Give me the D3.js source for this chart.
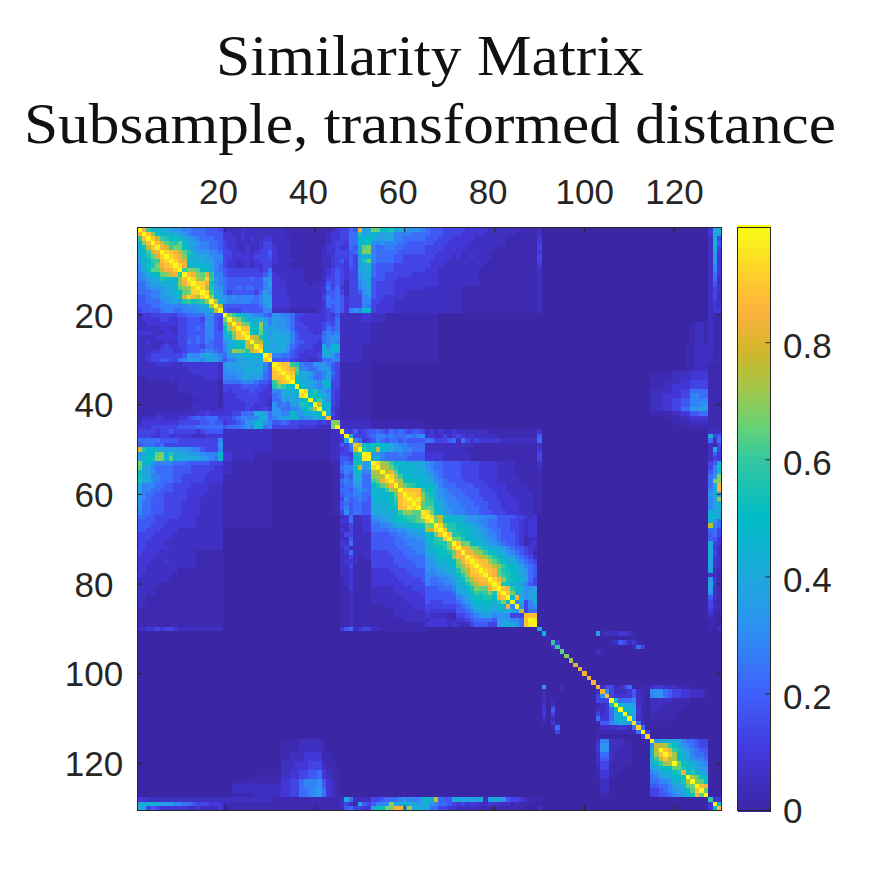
<!DOCTYPE html>
<html>
<head>
<meta charset="utf-8">
<script src="https://d3js.org/d3.v7.min.js"></script>
<style>
  html, body { margin: 0; padding: 0; background: #fff; }
  svg { display: block; }
  text { font-family: "Liberation Sans", Arial, sans-serif; fill: #262626; }
  .title { font-family: "Liberation Serif", serif; fill: #111; }
</style>
</head>
<body>
<svg id="chart" width="870" height="870"></svg>
<script>
// Similarity values, upper triangle only (the matrix is symmetric).
// Each row starts at its diagonal cell. Letter = level (see levels), a number after a
// letter = repeat count. Spaces only split the row into blocks.
const upperRows = [
"zvpmllkjiihhgggfffe dcccdcccccc c3b10cd eegfujkrqnnokkjiiih gfffeeeeedddddcccccccbbbbc a37 dkk",
"zwrnmllkjihgggffff ddccdcccccc c3b9cdd eeggojkmkjkkhhhhggg gfffeeeedddddcccccccbbbbbc a37 dkk",
"zwtpomnnkjihgggff dddcdcdccdd c4b8cdd eeggmmnmjjkkhhggggg f3e3d5c7b7d a37 cle",
"zwuqpoqmkkihhggf eddcccccdee c4b8cde edggmmnihihhhggffff f2e3d5c8b7d a37 clf",
"zvuprqnkjihhggf eddccdccdee dc3b7cdde ddgfkqrhgghhggfffff e4d5c7b9e a37 cle",
"zxwvtqokjijhhg eeddcdcdeef dc3b7cdde eefgkrrhgggggffffff e3d5c7b10d a37 cjd",
"zxwvrnlkkjihh eedddddeeef dc3b7ccde eefejllhggggffeeeee eeddddcdccdc4b10e a37 cid",
"zxvullkkjjhh eddcddcdeee dc4b6ccde fdfejoqhggggffeeeee ed4c9b11e a37 cjd",
"zxvmllmkkhg eddccdcddee c4b7ccde edfejklgffffeeeeeee ed3c9b12d a37 chd",
"zprrqmnjhg feeeeeeedeg c7b4cdef edeejklgffffeeeeeee d3c9b13c a37 chd",
"zwvrquohh feeeeeeeefh dc6b4cdef edeeikkgffeeeeeeddd d3c9b13c a37 cgd",
"zxsrxpih gfffffgffii ddc5b4ceef edeeijkfffeeedddddd d3c9b13c a37 cgc",
"zxxvnih gffffffffhj dddc5bcccfef eceehjkfeeeeddddddd d3c9b13c a37 cfc",
"zxsoji gffgfggffhi dddc8dgeg dceehikfeeeeddddddd c8b17c a37 ced",
"zxpkj gefffffegjh dddc8dffg eceefijfeeeedddcccc c8b17c a37 cec",
"zslj ihihhhhghkj ddddc7egfg fdeeehifeeddddccccc c8b17c a37 cec",
"ztl ihhhhhgghjj ddddc7dggg fdeeehheedddccccccc c8b17c a37 cdc",
"zt ffffffffgik ddddc7dgfg fdeeehgeddddccccccc c8b17c a37 cdc",
"z feeefffffhh c4b6cdefg fdhihmmeddddccccccc c8b17c a37 cdd",
"zrpnlkihhgf iihhgeedddddedf c5ddc3b9 b3a23 a24 a13 cbb",
"zurolklkjh jiihgeddddddeeg c5ddc3b9 b3a23 a24 a13 cbb",
"zvrqllskh jiihgeeddddefeg c7b12 b3a23 a24 a9bccb cbb",
"zwwnnrkj jjiigeeedddegfg c7b12 b3a23 a24 a9bccb cbb",
"zxnmqlj kkjjhfeeeddghgh c7b12 b3a23 a24 a9bccb cbb",
"zutomj klkkhfeeeeeghii c7b12 b3a23 a24 a9bccb cbb",
"zttll kkkjhffeeedghih c7b12 b3a23 a24 a9bccb cbb",
"zwlk jkkjgfeeeddkhml c5b14 b3a23 a24 a8bbccc cbb",
"zlk kkkifeeddddklll c5b14 b3a23 a24 a8bbccc cbb",
"zw hhggfeddddejkig c5b14 b3a23 a24 a8bbccc cbb",
"z ffffedddccdgghh c5b14 b3a23 a24 a8bbccc cbc",
"zxwwpohggiiihfe b7a12 a26 a24 a8bbccc bbb",
"zxwuqhhggiijfe b7a12 a26 a24 a8bbccc bbb",
"zxwpkkjhghjge b7a12 a26 a24 b5c4d4 bbb",
"zxnkkigghjfe b7a12 a26 a24 b5c4d4 bbb",
"znlkkjhmlee b7a12 a26 a24 b3c2c2d2e2e2 bbb",
"zmljihjmee b7a12 a26 a24 b3c2d2d2e2e2 bbb",
"zxmokihed b7a12 a26 a24 c3c2d2e2g2g2 bbb",
"znnmlied b7a12 a26 a24 c3d2d2e2h2g2 bbb",
"zmpkied b7a12 a26 a24 c3d2e2f2h2h2 bbb",
"ztmled b7a12 a26 a24 c3d2e2f2h2i2 bbb",
"zmkdc b7a12 a26 a24 c3d2e2g2i2j2 bbb",
"zkec b7a12 a26 a24 b3b2c2d2f2g2 bbb",
"wdc b7a12 a26 a24 a3b2b2c2d2d2 bbb",
"rr c7b12 a26 a24 a3a2b2b2c2c2 bbb",
"z c7b12 a26 a24 a3a2a2b2b2b2 bbb",
"zedfdeffgfegfgfeffe cdcdccdc7b11d a37 ccc",
"zkeeefghhghggghghi ddccecdedcdc5b9f a37 kef",
"zhgdefhgfggfgffff ggeeefgcgededddddc8g a37 gcg",
"wtnmnnmlkihhgggg c11b14c a37 cbe",
"zonntmkkiihhggg c9b16d a37 cke",
"zyjihggghggfff d4c6b15e a37 cfd",
"zkkhgggggffff d4c6b15e a37 ced",
"zxsrpmmllkkk ihggf4e4d4c4b5c a37 efk",
"ztsqolmmlkk ihggf4e4d4c4b5c a37 ehn",
"ztvqmllllk jihgf4e4d4c4b6 a37 fhn",
"zxtpmmlll kjhgf4e4d4c5b5 a37 gir",
"zvsnnnml lkihgf4e4d3c5b5 a37 grr",
"ztqponl mmkhg3f4e3d4c5b3 a37 gkv",
"zwwwwp nnkihg3f4e3d3c5b3 a37 hkv",
"zxxwr onlih2g3f3e4d3c5b2 a37 ilk",
"zxys poljih2g3f3e3d4c4b2 a37 hks",
"zxq ppmkih3g3f3e3d4c3b2 a37 hkk",
"zq qqnkjih3g3f2e3d4c3b2 a37 hjl",
"y xrnljih3g3f3e3d3c3b2 a37 lkk",
"zxrtnmllkjiiihhhffffeedcda a37 mll",
"zqtmmmlkjiihhggfffeedcdda a37 kig",
"zxqoonmlkjihggfffeedcdda a37 thg",
"zwponnmlkjihggffeedcdda a37 gge",
"zwoonmlkkihhgfffedcdda a37 fge",
"zrqommlkjihgfffedbcca a37 ffd",
"zwqrnmlkjihgffedbcda a37 ked",
"zvvrqonlkkjhgffedca a37 kdc",
"zvvsrpnmkkihgfedba a37 kec",
"zxvtsqomlkjhgfeca a37 kdc",
"zxwwsqonlkjhgfea a37 kdc",
"zxwvtrpnmljhgfa a37 jdc",
"zxwvqonmlkigfa a37 kcb",
"zwvqponlkjgfa a37 ccb",
"zxvronmljgea a37 jdb",
"zxonlkjhfea a37 kdb",
"zwvomliija a37 jcb",
"zwrlkijja a37 icb",
"zmvkijka a37 fcb",
"zhkehka a37 ebb",
"ziehia a37 ecb",
"tegga a37 dbb",
"wwwa a37 cba",
"zya a37 bba",
"za a37 baa",
"ja37 bac",
"la11jbcccddcba16 a3",
"ba38",
"pda11bcfecdba15 a3",
"pa16bgea14 a3",
"qa7cba23 a3",
"ra34",
"sa33",
"ua32",
"ua31",
"va30",
"va29",
"va28",
"vceebcegbabb cddcccbbbaaaa a3",
"vi ecccdfcba hiigfeeddcccb a3",
"w eddddfcba hiigfeeddcccb a3",
"z nggghcba cccccbbbbaaaa a3",
"z mkkicba cccbbbbbaaaaa a3",
"z mlkdba ccbbbbba6 a3",
"z lkdba b6a7 a3",
"z jcba b6a7 a3",
"y gba a13 a3",
"x ga a13 a3",
"z e a13 a3",
"x a13 a3",
"zikkkkjhggfee a3",
"ttspnkihgfee a3",
"zwupnkjhgff a3",
"zwsmlkhggf a3",
"tsnlkihhg a3",
"zqnmljih a3",
"qomlkji a3",
"vnolkj a3",
"zsqnm a3",
"zrqn a3",
"zwv a3",
"zq a3",
"z a3",
"pdd",
"zl",
"w"
];
// value of each letter a..z, finer at the dark end where most of the picture sits
const levels = [0, 0.02, 0.05, 0.09, 0.13, 0.18, 0.23, 0.28, 0.32, 0.36, 0.4, 0.44, 0.48, 0.52, 0.56, 0.6,
  0.64, 0.68, 0.72, 0.76, 0.8, 0.84, 0.88, 0.92, 0.96, 1];

const xTickValues = [20, 40, 60, 80, 100, 120];
const yTickValues = [20, 40, 60, 80, 100, 120];
const colorbarTicks = [0, 0.2, 0.4, 0.6, 0.8];
const titleLines = ["Similarity Matrix", "Subsample, transformed distance"];
// colormap stops
const colorStops = [0, 0.1, 0.2, 0.3, 0.4, 0.5, 0.6, 0.65, 0.72, 0.78, 0.85, 0.92, 0.996];
const colorValues = ["#3b27a5", "#4338dc", "#3f60fb", "#2f8df5", "#1ea9dc", "#00bcc6", "#34c8a0", "#62d27a",
  "#a4c74a", "#cdb82a", "#fdb13c", "#fdd22a", "#f9fb15"];

const n = 130;
const size = { left: 137.5, right: 721.5, top: 227.5, bottom: 810.5 };

// upper triangle -> full matrix
const matrix = d3.range(n).map(() => new Array(n).fill(0));
upperRows.forEach((row, i) => {
  const cells = [];
  for (const m of row.replace(/ /g, "").matchAll(/([a-z])(\d*)/g)) {
    const count = m[2] === "" ? 1 : +m[2];
    for (let c = 0; c < count; c++) cells.push(levels[m[1].charCodeAt(0) - 97]);
  }
  cells.forEach((v, k) => {
    if (i + k < n) { matrix[i][i + k] = v; matrix[i + k][i] = v; }
  });
});

const svg = d3.select("#chart");
const indices = d3.range(1, n + 1);

const x = d3.scaleBand().domain(indices).range([size.left, size.right]);
const y = d3.scaleBand().domain(indices).range([size.top, size.bottom]);
const color = d3.scaleLinear().domain(colorStops).range(colorValues).clamp(true);

// cells
const cells = matrix.flatMap((row, r) => row.map((v, c) => ({ r: r + 1, c: c + 1, v })));
svg.append("g")
  .attr("shape-rendering", "crispEdges")
  .selectAll("rect")
  .data(cells)
  .join("rect")
  .attr("x", d => x(d.c))
  .attr("y", d => y(d.r))
  .attr("width", x.bandwidth() + 0.5)
  .attr("height", y.bandwidth() + 0.5)
  .attr("fill", d => color(d.v));

// axes: MATLAB style, ticks point inwards on all four sides
const fontSize = 35;

function styleAxis(g) {
  g.selectAll("line").attr("stroke", "#262626").attr("stroke-width", 1);
  g.selectAll("path").remove();
}

const gTop = svg.append("g").attr("transform", `translate(0,${size.top})`)
  .call(d3.axisTop(x).tickValues(xTickValues).tickSize(-5).tickPadding(24));
gTop.call(styleAxis);
gTop.selectAll("text").attr("font-size", fontSize).attr("text-anchor", "start")
  .attr("dx", d => d >= 100 ? -29 : -26)
  .style("font-family", '"Liberation Sans"').attr("fill", "#262626");

svg.append("g").attr("transform", `translate(0,${size.bottom})`)
  .call(d3.axisBottom(x).tickValues(xTickValues).tickSize(-5).tickFormat(""))
  .call(styleAxis);

const gLeft = svg.append("g").attr("transform", `translate(${size.left},0)`)
  .call(d3.axisLeft(y).tickValues(yTickValues).tickSize(-5).tickPadding(0));
gLeft.call(styleAxis);
gLeft.selectAll("text").attr("font-size", fontSize).attr("text-anchor", "middle")
  .attr("x", 94 - size.left).attr("dy", "0.36em")
  .style("font-family", '"Liberation Sans"').attr("fill", "#262626");

svg.append("g").attr("transform", `translate(${size.right},0)`)
  .call(d3.axisRight(y).tickValues(yTickValues).tickSize(-5).tickFormat(""))
  .call(styleAxis);

svg.append("rect")
  .attr("x", size.left).attr("y", size.top)
  .attr("width", size.right - size.left).attr("height", size.bottom - size.top)
  .attr("fill", "none").attr("stroke", "#262626").attr("stroke-width", 1);

// colorbar
const bar = { left: 737.5, right: 770.5 };
const cScale = d3.scaleLinear().domain([0, 0.996]).range([size.bottom, size.top]);
const barSteps = d3.range(0, 256).map(i => i / 255 * 0.996);
svg.append("g")
  .attr("shape-rendering", "crispEdges")
  .selectAll("rect")
  .data(barSteps)
  .join("rect")
  .attr("x", bar.left)
  .attr("width", bar.right - bar.left)
  .attr("y", d => cScale(d) - (size.bottom - size.top) / 256)
  .attr("height", (size.bottom - size.top) / 256 + 1)
  .attr("fill", d => color(d));

const gBar = svg.append("g").attr("transform", `translate(${bar.right},0)`)
  .call(d3.axisRight(cScale).tickValues(colorbarTicks).tickSize(-5).tickPadding(0)
    .tickFormat(d => d === 0 ? "0" : d3.format(".1f")(d)));
gBar.call(styleAxis);
gBar.selectAll("text").attr("font-size", fontSize).attr("x", 783 - bar.right)
  .attr("dy", d => d === 0 ? "0.33em" : "0.43em")
  .style("font-family", '"Liberation Sans"').attr("fill", "#262626");

svg.append("rect")
  .attr("x", bar.left).attr("y", size.top)
  .attr("width", bar.right - bar.left).attr("height", size.bottom - size.top)
  .attr("fill", "none").attr("stroke", "#262626").attr("stroke-width", 1);

// title
const titleCenter = 430;
const titleWidths = [428, 812];
const titleBase = [75, 143];
titleLines.forEach((line, i) => {
  svg.append("text")
    .attr("class", "title")
    .attr("x", titleCenter)
    .attr("y", titleBase[i])
    .attr("text-anchor", "middle")
    .attr("font-size", 57)
    .attr("textLength", titleWidths[i])
    .attr("lengthAdjust", "spacingAndGlyphs")
    .text(line);
});
</script>
</body>
</html>
